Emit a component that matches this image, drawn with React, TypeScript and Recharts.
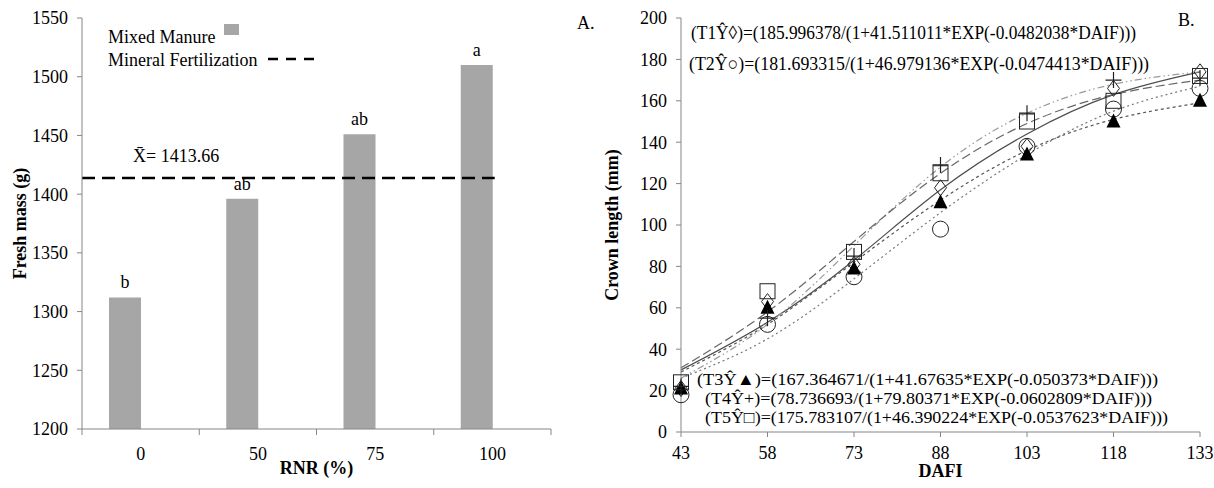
import React from 'react';
import {
  XAxis, YAxis, LabelList, Bar, ComposedChart, Line,
} from 'recharts';

// panel A – fresh mass by RNR level
const rnrLevels = ['0', '50', '75', '100'];
const freshMass = [1312, 1396, 1451, 1510];
const tukeyLetters = ['b', 'ab', 'ab', 'a'];
const mineralMean = 1413.66;
const mineralSpan = [0, 3.52]; // in category widths, from the y axis
const massTicks = [1200, 1250, 1300, 1350, 1400, 1450, 1500, 1550];

// panel B – crown length over days after flower induction
const dafi = [43, 58, 73, 88, 103, 118, 133];
const lengthTicks = [0, 20, 40, 60, 80, 100, 120, 140, 160, 180, 200];
const t1Obs = [21, 63, 81, 118, 138, 166, 174];
const t2Obs = [18, 52, 75, 98, 138, 156, 166];
const t3Obs = [21, 60, 79, 111, 134, 150, 160];
const t4Obs = [22, 55, 85, 129, 154, 170, 171];
const t5Obs = [24, 68, 87, 125, 150, 160, 172];
const t1Fit = [30, 53, 83, 117, 144, 163, 174];
const t2Fit = [26, 45, 74, 106, 134, 155, 167];
const t3Fit = [29, 52, 82, 112, 136, 151, 159];
const t4Fit = [26, 52, 90, 128, 154, 168, 174];
const t5Fit = [31, 58, 92, 125, 149, 163, 170];

const equationsTop = [
  '(T1Ŷ◊)=(185.996378/(1+41.511011*EXP(-0.0482038*DAIF)))',
  '(T2Ŷ○)=(181.693315/(1+46.979136*EXP(-0.0474413*DAIF)))',
];
const equationsBottom = [
  '(T3Ŷ▲)=(167.364671/(1+41.67635*EXP(-0.050373*DAIF)))',
  '(T4Ŷ+)=(78.736693/(1+79.80371*EXP(-0.0602809*DAIF)))',
  '(T5Ŷ□)=(175.783107/(1+46.390224*EXP(-0.0537623*DAIF)))',
];

const barData = rnrLevels.map((rnr, i) => ({
  rnr,
  mass: freshMass[i],
  letter: tukeyLetters[i],
  blank: null,
}));
const meanData = mineralSpan.map((pos) => ({ pos, mean: mineralMean }));

const growthData = dafi.map((d, i) => ({
  dafi: d,
  t1: t1Obs[i], t2: t2Obs[i], t3: t3Obs[i], t4: t4Obs[i], t5: t5Obs[i],
  f1: t1Fit[i], f2: t2Fit[i], f3: t3Fit[i], f4: t4Fit[i], f5: t5Fit[i],
}));

const axisGray = '#868686';
const tickStyle = { fill: '#000', fontSize: 18 };
const titleStyle = { fill: '#000', fontSize: 18, fontWeight: 700, textAnchor: 'middle' as const };

const Diamond = (p: any) => (
  <path key={p.index} d={`M${p.cx},${p.cy - 8}L${p.cx + 6},${p.cy}L${p.cx},${p.cy + 8}L${p.cx - 6},${p.cy}Z`}
    fill="none" stroke="#222" strokeWidth={1} />
);
const Ring = (p: any) => (
  <circle key={p.index} cx={p.cx} cy={p.cy} r={8} fill="none" stroke="#222" strokeWidth={1} />
);
const Triangle = (p: any) => (
  <path key={p.index} d={`M${p.cx},${p.cy - 8}L${p.cx + 7},${p.cy + 6}L${p.cx - 7},${p.cy + 6}Z`} fill="#000" />
);
const Plus = (p: any) => (
  <path key={p.index} d={`M${p.cx - 8},${p.cy}H${p.cx + 8}M${p.cx},${p.cy - 8}V${p.cy + 8}`}
    stroke="#222" strokeWidth={1.2} />
);
const Square = (p: any) => (
  <rect key={p.index} x={p.cx - 7.5} y={p.cy - 7.5} width={15} height={15} fill="none" stroke="#222" strokeWidth={1} />
);

const fits = [
  { key: 'f1', stroke: '#4d4d4d', dash: undefined },
  { key: 'f2', stroke: '#7a7a7a', dash: '2 3' },
  { key: 'f3', stroke: '#555', dash: '3 3' },
  { key: 'f4', stroke: '#9a9a9a', dash: '7 3 1.5 3 1.5 3' },
  { key: 'f5', stroke: '#666', dash: '9 4' },
];
const observed = [
  { key: 't1', mark: Diamond },
  { key: 't2', mark: Ring },
  { key: 't3', mark: Triangle },
  { key: 't4', mark: Plus },
  { key: 't5', mark: Square },
];

function FreshMassChart() {
  return (
    <ComposedChart width={600} height={488} data={barData} barGap={0}
      margin={{ top: 18, right: 49, bottom: 28, left: 0 }}>
      <XAxis xAxisId="a" dataKey="pos" type="number" domain={[0, 4]} allowDataOverflow ticks={[0, 1, 2, 3, 4]}
        tickFormatter={() => ''} height={1} tickSize={6} stroke={axisGray} />
      <XAxis xAxisId="b" dataKey="rnr" height={30} axisLine={false} tickLine={false}
        tick={tickStyle} tickMargin={11}
        label={{ value: 'RNR (%)', position: 'bottom', offset: 1, style: titleStyle }} />
      <YAxis domain={[1200, 1550]} ticks={massTicks} width={82} stroke={axisGray}
        tick={tickStyle} tickSize={5} tickMargin={9} interval={0}
        label={{ value: 'Fresh mass (g)', angle: -90, position: 'insideLeft', offset: 20, style: titleStyle }} />
      <Bar xAxisId="b" dataKey="mass" fill="#a6a6a6" barSize={32} isAnimationActive={false}>
        <LabelList dataKey="letter" position="top" offset={9} style={{ fill: '#000', fontSize: 18 }} />
      </Bar>
      <Bar xAxisId="b" dataKey="blank" fill="none" barSize={32} isAnimationActive={false} legendType="none" />
      <Line xAxisId="a" data={meanData} dataKey="mean" stroke="#000" strokeWidth={2.5}
        strokeDasharray="13 7" dot={false} activeDot={false} isAnimationActive={false} />
      <text x={133} y={156} fontSize={18} dominantBaseline="central" fill="#000">X̄= 1413.66</text>
      <text x={108} y={37} fontSize={18} dominantBaseline="central" fill="#000">Mixed Manure</text>
      <rect x={224} y={24} width={15} height={11} fill="#a6a6a6" />
      <text x={108} y={60} fontSize={18} dominantBaseline="central" fill="#000">Mineral Fertilization</text>
      <line x1={268} y1={59} x2={316} y2={59} stroke="#000" strokeWidth={2.5} strokeDasharray="10 8" />
      <text x={577} y={23} fontSize={18} dominantBaseline="central" fill="#000">A.</text>
    </ComposedChart>
  );
}

function CrownLengthChart() {
  const topWidths = [445, 460];
  const bottomX = [97, 105, 105];
  const bottomWidths = [461, 447, 463];
  return (
    <ComposedChart width={614} height={488} data={growthData}
      margin={{ top: 18, right: 14, bottom: 26, left: 0 }}>
      <XAxis dataKey="dafi" type="number" domain={[43, 133]} ticks={dafi} interval={0}
        height={30} stroke={axisGray} tick={tickStyle} tickSize={5} tickMargin={9}
        label={{ value: 'DAFI', position: 'bottom', offset: 2, style: titleStyle }} />
      <YAxis domain={[0, 200]} ticks={lengthTicks} width={81} interval={0} stroke={axisGray}
        tick={tickStyle} tickSize={5} tickMargin={9}
        label={{ value: 'Crown length (mm)', angle: -90, position: 'insideLeft', offset: 12, style: titleStyle }} />
      {fits.map((f) => (
        <Line key={f.key} dataKey={f.key} type="natural" stroke={f.stroke} strokeWidth={1.2}
          strokeDasharray={f.dash} dot={false} activeDot={false} isAnimationActive={false} />
      ))}
      {observed.map((o) => (
        <Line key={o.key} dataKey={o.key} stroke="none" dot={(p: any) => o.mark(p)}
          activeDot={false} isAnimationActive={false} />
      ))}
      {equationsTop.map((eq, i) => (
        <text key={eq} x={i === 0 ? 91 : 89} y={32 + i * 31} fontSize={19} dominantBaseline="central"
          fill="#000" textLength={topWidths[i]} lengthAdjust="spacingAndGlyphs">{eq}</text>
      ))}
      {equationsBottom.map((eq, i) => (
        <text key={eq} x={bottomX[i]} y={379 + i * 19} fontSize={17} dominantBaseline="central"
          fill="#000" textLength={bottomWidths[i]} lengthAdjust="spacingAndGlyphs">{eq}</text>
      ))}
      <text x={578} y={20} fontSize={18} dominantBaseline="central" fill="#000">B.</text>
    </ComposedChart>
  );
}

export default function App() {
  return (
    <div style={{
      position: 'absolute', left: 0, top: 0, width: 1214, height: 488, background: '#fff',
      fontFamily: "'Liberation Serif', 'Times New Roman', serif",
    }}>
      <div style={{ position: 'absolute', left: 0, top: 0 }}>
        <FreshMassChart />
      </div>
      <div style={{ position: 'absolute', left: 600, top: 0 }}>
        <CrownLengthChart />
      </div>
    </div>
  );
}
